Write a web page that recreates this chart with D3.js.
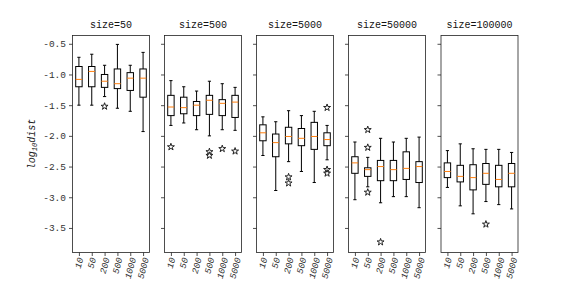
<!DOCTYPE html>
<html>
<head>
<meta charset="utf-8">
<script src="https://cdn.jsdelivr.net/npm/d3@7"></script>
<style>
  body { margin: 0; background: #fff; }
  text { font-family: "Liberation Mono", "DejaVu Sans Mono", monospace; }
</style>
</head>
<body>
<div id="chart"></div>
<script>
// panel titles (sample size) and x categories
const sizes = [50, 500, 5000, 50000, 100000]
const categories = ['10', '50', '200', '500', '1000', '5000']
const yTicks = [-0.5, -1.0, -1.5, -2.0, -2.5, -3.0, -3.5]

// box stats per panel, per category: [whiskerLow, q1, median, q3, whiskerHigh]
const stats50 = [
  [-1.50, -1.20, -1.08, -0.87, -0.72],
  [-1.50, -1.20, -0.95, -0.87, -0.67],
  [-1.36, -1.21, -1.11, -1.00, -0.85],
  [-1.55, -1.23, -1.15, -0.91, -0.51],
  [-1.60, -1.26, -1.06, -0.97, -0.85],
  [-1.93, -1.37, -1.06, -0.91, -0.64]
]
const stats500 = [
  [-1.83, -1.67, -1.53, -1.34, -1.10],
  [-1.79, -1.64, -1.54, -1.37, -1.20],
  [-1.90, -1.67, -1.50, -1.44, -1.27],
  [-2.00, -1.65, -1.42, -1.34, -1.11],
  [-1.90, -1.67, -1.47, -1.41, -1.15],
  [-1.91, -1.70, -1.45, -1.34, -1.21]
]
const stats5000 = [
  [-2.32, -2.08, -1.95, -1.82, -1.69],
  [-2.89, -2.34, -2.11, -1.97, -1.77],
  [-2.42, -2.13, -2.01, -1.86, -1.59],
  [-2.58, -2.16, -2.04, -1.88, -1.67],
  [-2.76, -2.22, -2.01, -1.78, -1.60],
  [-2.39, -2.16, -2.06, -1.95, -1.83]
]
const stats50000 = [
  [-3.04, -2.61, -2.44, -2.34, -2.10],
  [-2.83, -2.66, -2.55, -2.52, -2.35],
  [-3.09, -2.73, -2.50, -2.40, -2.04],
  [-2.99, -2.73, -2.55, -2.40, -2.10],
  [-2.99, -2.71, -2.53, -2.26, -2.04],
  [-3.17, -2.76, -2.50, -2.42, -2.02]
]
const stats100000 = [
  [-2.84, -2.68, -2.58, -2.44, -2.24],
  [-3.14, -2.75, -2.66, -2.48, -2.13],
  [-3.27, -2.88, -2.68, -2.47, -2.21],
  [-3.07, -2.79, -2.61, -2.45, -2.22],
  [-3.12, -2.83, -2.71, -2.48, -2.22],
  [-3.19, -2.83, -2.61, -2.45, -2.27]
]
const allStats = [stats50, stats500, stats5000, stats50000, stats100000]

// outliers per panel, per category
const fliers50 = [[], [], [-1.52], [], [], []]
const fliers500 = [[-2.18], [], [], [-2.26, -2.32], [-2.21], [-2.25]]
const fliers5000 = [[], [], [-2.67, -2.77], [], [], [-1.54, -2.55, -2.61]]
const fliers50000 = [[], [-1.90, -2.19, -2.92], [-3.73], [], [], []]
const fliers100000 = [[], [], [], [-3.44], [], []]
const allFliers = [fliers50, fliers500, fliers5000, fliers50000, fliers100000]

const W = 576, H = 288
const yTop = 35.5, yBottom = 252.5
const panelLeft = [72.5, 164.5, 256.5, 348.5, 441]
const panelW = 77

const svg = d3.select('#chart').append('svg')
  .attr('width', W).attr('height', H)

const y = d3.scaleLinear().domain([-3.9, -0.365]).range([yBottom, yTop])

const star = d3.symbol().type(d3.symbolStar).size(15)

sizes.forEach((s, pi) => {
  const x0 = panelLeft[pi]
  const x = d3.scalePoint().domain(categories).range([0, panelW]).padding(0.5)
  const bw = panelW / categories.length * 0.5

  const g = svg.append('g').attr('transform', `translate(${x0},0)`)

  // y axis
  const yAxis = d3.axisLeft(y).tickValues(yTicks).tickSize(3.5).tickPadding(3)
  const ya = g.append('g').call(yAxis)
  ya.select('.domain').remove()
  ya.selectAll('text').style('font-size', '9.5px').attr('fill', '#333')
    .text(d => pi === 0 ? d3.format('.1f')(d).replace('−', '-') : '')
  ya.selectAll('line').attr('stroke', '#222').attr('stroke-width', 0.8)

  // x axis
  const xAxis = d3.axisBottom(x).tickSize(3.5).tickFormat('')
  const xa = g.append('g').attr('transform', `translate(0,${yBottom})`).call(xAxis)
  xa.select('.domain').remove()
  xa.selectAll('line').attr('stroke', '#222').attr('stroke-width', 0.8)

  // rotated category labels
  g.selectAll('.xl').data(categories).enter().append('text')
    .attr('class', 'xl')
    .attr('text-anchor', 'end')
    .style('font-size', '9px')
    .style('font-style', 'italic')
    .attr('fill', '#333')
    .text(d => d)
    .attr('transform', function (d) {
      const len = this.getComputedTextLength()
      const dx = len * Math.cos(75 * Math.PI / 180) / 2 + 3
      return `translate(${x(d) + dx},${yBottom + 6}) rotate(-75)`
    })

  // boxes
  const stats = allStats[pi]
  categories.forEach((c, ci) => {
    const [lo, q1, med, q3, hi] = stats[ci]
    const cx = x(c)
    const bg = g.append('g')
    bg.append('line').attr('x1', cx).attr('x2', cx).attr('y1', y(hi)).attr('y2', y(q3))
      .attr('stroke', '#000').attr('stroke-width', 1)
    bg.append('line').attr('x1', cx).attr('x2', cx).attr('y1', y(q1)).attr('y2', y(lo))
      .attr('stroke', '#000').attr('stroke-width', 1)
    ;[hi, lo].forEach(v => {
      bg.append('line').attr('x1', cx - bw / 4).attr('x2', cx + bw / 4)
        .attr('y1', y(v)).attr('y2', y(v))
        .attr('stroke', '#000').attr('stroke-width', 1)
    })
    bg.append('rect').attr('x', cx - bw / 2).attr('y', y(q3))
      .attr('width', bw).attr('height', y(q1) - y(q3))
      .attr('fill', 'none').attr('stroke', '#000').attr('stroke-width', 1)
    bg.append('line').attr('x1', cx - bw / 2).attr('x2', cx + bw / 2)
      .attr('y1', y(med)).attr('y2', y(med))
      .attr('stroke', '#ff7f0e').attr('stroke-width', 1)
    allFliers[pi][ci].forEach(v => {
      bg.append('path').attr('d', star)
        .attr('transform', `translate(${cx},${y(v)})`)
        .attr('fill', '#fff').attr('stroke', '#222').attr('stroke-width', 1)
    })
  })

  // frame
  g.append('rect').attr('x', 0).attr('y', yTop).attr('width', panelW).attr('height', yBottom - yTop)
    .attr('fill', 'none').attr('stroke', '#222').attr('stroke-width', 0.8)

  // title
  g.append('text').attr('x', panelW / 2).attr('y', yTop - 8)
    .attr('text-anchor', 'middle').style('font-size', '10px').attr('fill', '#111')
    .text(`size=${s}`)
})

// y label
const yl = svg.append('text')
  .attr('transform', `translate(35,${(yTop + yBottom) / 2}) rotate(-90)`)
  .attr('text-anchor', 'middle')
  .style('font-size', '10px').style('font-style', 'italic').attr('fill', '#222')
yl.append('tspan').text('log')
yl.append('tspan').attr('dy', 2).style('font-size', '7px').text('10')
yl.append('tspan').attr('dy', -2).text('dist')
</script>
</body>
</html>
